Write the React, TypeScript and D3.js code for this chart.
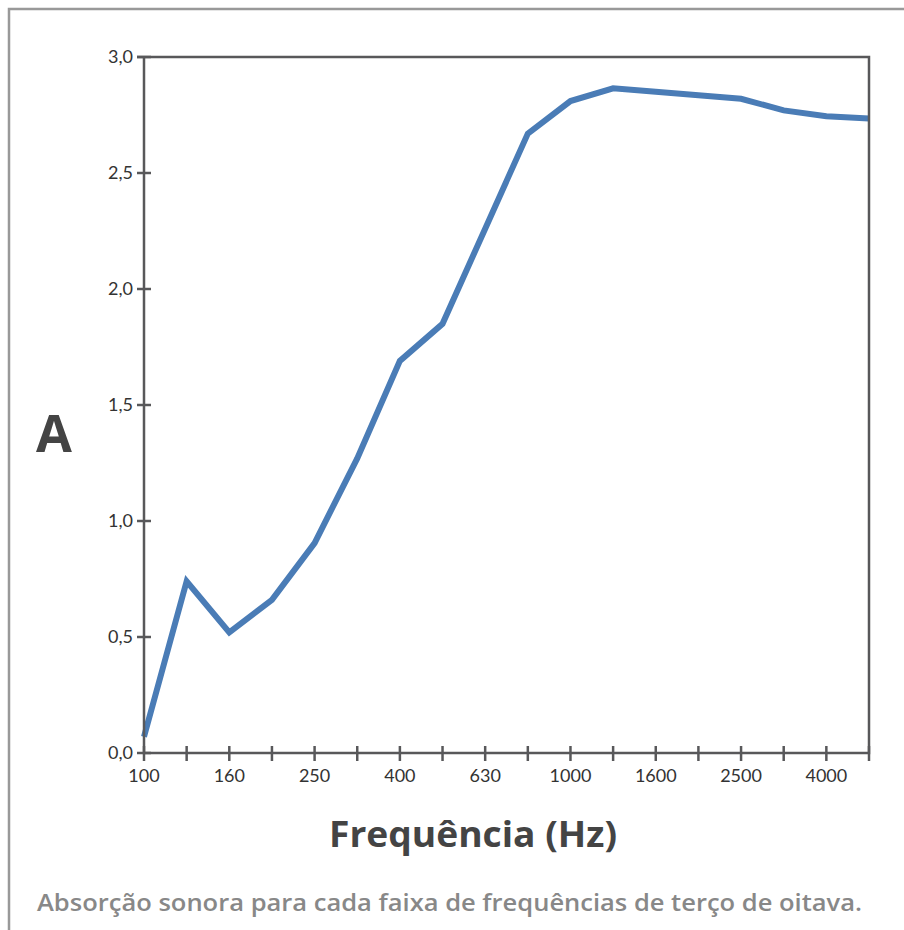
import React from 'react';
import * as d3 from 'd3';

const frequencies = ['100', '125', '160', '200', '250', '315', '400', '500', '630', '800', '1000', '1250', '1600', '2000', '2500', '3150', '4000', '5000'];
const absorption = [0.07, 0.74, 0.52, 0.66, 0.905, 1.27, 1.69, 1.85, 2.26, 2.67, 2.81, 2.865, 2.85, 2.835, 2.82, 2.77, 2.745, 2.735];
const labelled = ['100', '160', '250', '400', '630', '1000', '1600', '2500', '4000'];
const yTicks = [0, 0.5, 1, 1.5, 2, 2.5, 3];

const width = 904;
const height = 930;
const left = 144;
const right = 869;
const top = 57;
const bottom = 753;
const axisColor = '#58585a';

const App = () => {
  const x = d3.scalePoint<string>().domain(frequencies).range([left, right]);
  const y = d3.scaleLinear().domain([0, 3]).range([bottom, top]);
  const line = d3.line<number>()
    .x((_, i) => x(frequencies[i]) as number)
    .y(d => y(d));
  const fmt = (v: number) => d3.format('.1f')(v).replace('.', ',');

  return (
    <svg width={width} height={height} style={{ position: 'absolute', left: 0, top: 0 }}>
      <rect x={9} y={9} width={width} height={height} fill="none" stroke="#999" strokeWidth={2.5} />
      <path d={line(absorption) ?? ''} fill="none" stroke="#4a7cb6" strokeWidth={6} strokeLinejoin="miter" />
      <path d={`M${left - 7},${top}H${right}V${bottom}H${left}V${top}`} fill="none" stroke={axisColor} strokeWidth={2.5} />
      {yTicks.map(t => (
        <g key={t}>
          <line x1={left - 7} x2={left + 7} y1={y(t)} y2={y(t)} stroke={axisColor} strokeWidth={2.5} />
          <text x={left - 11} y={y(t)} dy="0.32em" textAnchor="end" fontFamily="Lato" fontSize={18} fill="#333">{fmt(t)}</text>
        </g>
      ))}
      {frequencies.map(f => (
        <g key={f}>
          <line x1={x(f)} x2={x(f)} y1={bottom - 7} y2={bottom + 8} stroke={axisColor} strokeWidth={2.5} />
          {labelled.includes(f) && (
            <text x={x(f)} y={bottom + 29} textAnchor="middle" fontFamily="Lato" fontSize={18} fill="#333">{f}</text>
          )}
        </g>
      ))}
      <text x={54} y={452} textAnchor="middle" fontFamily="Open Sans" fontWeight="bold" fontSize={52} fill="#444">A</text>
      <text x={329} y={847} fontFamily="Open Sans" fontWeight="bold" fontSize={35} fill="#444" textLength={288} lengthAdjust="spacingAndGlyphs">Frequência (Hz)</text>
      <text x={37} y={911} fontFamily="Open Sans" fontWeight={600} fontSize={23.5} fill="#888" textLength={825} lengthAdjust="spacingAndGlyphs">Absorção sonora para cada faixa de frequências de terço de oitava.</text>
    </svg>
  );
};

export default App;
